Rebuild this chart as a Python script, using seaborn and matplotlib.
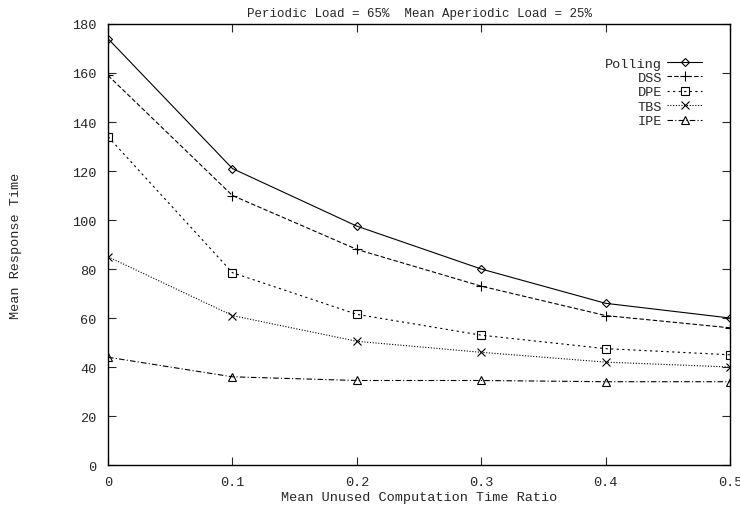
import numpy as np
import pandas as pd
import seaborn as sns
import matplotlib.pyplot as plt

# dados
ratio = [0.0, 0.1, 0.2, 0.3, 0.4, 0.5]
polling = [174, 121, 97.5, 80, 66, 60]
dss = [159, 110, 88, 73, 61, 56]
dpe = [134, 78.5, 61.5, 53, 47.5, 45]
tbs = [85, 61, 50.5, 46, 42, 40]
ipe = [44, 36, 34.5, 34.5, 34, 34]

series = ["Polling", "DSS", "DPE", "TBS", "IPE"]
values = [polling, dss, dpe, tbs, ipe]

sns.set_theme(style="ticks")
plt.rcParams["font.family"] = ["Liberation Mono", "DejaVu Sans Mono"]

fig = plt.figure(figsize=(7.4, 5.06), dpi=100)
ax = fig.add_axes([0.146, 0.079, 0.8405, 0.8716])

estilos = {
    "Polling": dict(marker="D", linestyle="-", markersize=4),
    "DSS": dict(marker="+", linestyle=(0, (4, 2)), markersize=7),
    "DPE": dict(marker="s", linestyle=(0, (2, 3)), markersize=6),
    "TBS": dict(marker="x", linestyle=(0, (1, 1.5)), markersize=6),
    "IPE": dict(marker="^", linestyle=(0, (5, 2, 1, 2)), markersize=6),
}

for nome, vals in zip(series, values):
    sns.lineplot(x=ratio, y=vals, ax=ax, color="black", linewidth=0.8,
                 markerfacecolor="none", markeredgecolor="black",
                 markeredgewidth=0.8, label=nome, **estilos[nome])

fs = 9.7
ax.set_xlim(0, 0.5)
ax.set_ylim(0, 180)
ax.set_xticks(np.arange(0, 0.51, 0.1))
ax.set_xticklabels(["0", "0.1", "0.2", "0.3", "0.4", "0.5"])
ax.set_yticks(np.arange(0, 181, 20))
ax.tick_params(direction="in", top=True, right=True, length=6, width=0.8,
               labelsize=fs)
ax.tick_params(axis="x", pad=8)
ax.tick_params(axis="y", pad=8.5)
for s in ax.spines.values():
    s.set_linewidth(1.0)
    s.set_color("black")

ax.set_xlabel("Mean Unused Computation Time Ratio", fontsize=fs, labelpad=2)
ax.set_ylabel("Mean Response Time", fontsize=fs, labelpad=36)
ax.set_title("Periodic Load = 65%  Mean Aperiodic Load = 25%", fontsize=9, pad=6)

ax.legend(loc="upper right", bbox_to_anchor=(0.955, 0.925), frameon=False,
          markerfirst=False, handlelength=2.6, handletextpad=0.37,
          labelspacing=0.15, fontsize=fs, borderpad=0, borderaxespad=0)

fig.savefig("out.png", dpi=100)
